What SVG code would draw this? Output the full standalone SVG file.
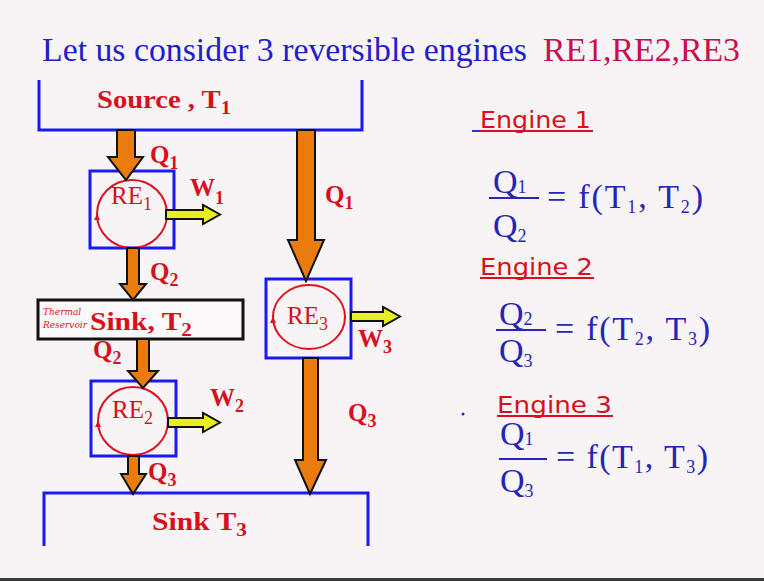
<svg xmlns="http://www.w3.org/2000/svg" width="764" height="581" viewBox="0 0 764 581">
<defs>
<style>
.title{font-family:"Liberation Serif",serif;font-size:33px;}
.lbl{font-family:"Liberation Serif",serif;font-weight:bold;font-size:25px;fill:#d8101c;}
.q{font-family:"Liberation Serif",serif;font-weight:bold;font-size:25px;fill:#d8101c;}
.re{font-family:"Liberation Serif",serif;font-size:25px;fill:#d8101c;}
.eng{font-family:"DejaVu Sans",sans-serif;font-size:23px;fill:#d8101c;}
.math{font-family:"Liberation Serif",serif;font-size:34px;fill:#2626b4;}
.sub{font-size:18px;}
.hot{fill:#e97c0c;stroke:#111;stroke-width:2;stroke-linejoin:miter;}
.work{fill:#e6f01e;stroke:#111;stroke-width:2;}
.box{fill:none;stroke:#1a1af0;stroke-width:3;}
.cyc{fill:none;stroke:#e0101c;stroke-width:2;}
.res{fill:none;stroke:#1a1af0;stroke-width:3;}
</style>
</defs>
<rect x="0" y="0" width="764" height="581" fill="#f8f4f6"/>
<rect x="0" y="578" width="764" height="3" fill="#3a3a3a"/>

<text class="title" x="42" y="61" fill="#2020c8" textLength="485" lengthAdjust="spacingAndGlyphs">Let us consider 3 reversible engines</text>
<text class="title" x="543" y="61" fill="#c8104c" textLength="197" lengthAdjust="spacingAndGlyphs">RE1,RE2,RE3</text>

<g id="source">
<polyline class="res" points="39,80 39,130 362,130 362,80"/>
<text class="lbl" x="97" y="108" font-size="27" textLength="134" lengthAdjust="spacingAndGlyphs">Source , T<tspan class="sub" dy="6">1</tspan></text>
</g>

<g id="sink2">
<rect x="38" y="300" width="205" height="39" fill="#fbf9fa" stroke="#111" stroke-width="3"/>
<text x="43" y="315" font-family="DejaVu Serif,serif" font-style="italic" font-size="9" fill="#d8101c">Thermal</text>
<text x="43" y="328" font-family="DejaVu Serif,serif" font-style="italic" font-size="9" fill="#d8101c">Reservoir</text>
<text class="lbl" x="90" y="330" font-size="26" textLength="102" lengthAdjust="spacingAndGlyphs">Sink, T<tspan class="sub" dy="6">2</tspan></text>
</g>

<g id="sink3">
<polyline class="res" points="44,546 44,493 368,493 368,546"/>
<text class="lbl" x="152" y="530" font-size="26" textLength="95" lengthAdjust="spacingAndGlyphs">Sink T<tspan class="sub" dy="6">3</tspan></text>
</g>

<g id="re1">
<rect class="box" x="90" y="171" width="84" height="77"/>
<ellipse class="cyc" cx="132" cy="214" rx="35" ry="34"/>
<polygon points="97,214 94,220 100,220" fill="#e0101c"/>
<text class="re" x="111" y="204">RE<tspan class="sub" dy="6">1</tspan></text>
</g>

<g id="re2">
<rect class="box" x="91" y="381" width="85" height="75"/>
<ellipse class="cyc" cx="133" cy="421" rx="35" ry="34"/>
<polygon points="98,421 95,427 101,427" fill="#e0101c"/>
<text class="re" x="112" y="418">RE<tspan class="sub" dy="6">2</tspan></text>
</g>

<g id="re3">
<rect class="box" x="266" y="279" width="85" height="79"/>
<ellipse class="cyc" cx="309" cy="317" rx="36" ry="32"/>
<polygon points="273,317 270,323 276,323" fill="#e0101c"/>
<text class="re" x="287" y="324">RE<tspan class="sub" dy="6">3</tspan></text>
</g>

<g id="connectors">
<polygon class="hot" points="117,130 135,130 135,157 143,157 126,180 108,157 117,157"/>
<polygon class="hot" points="297,130 315,130 315,240 324,240 306,281 288,240 297,240"/>
<polygon class="hot" points="127,248 139,248 139,284 146,284 133,300 120,284 127,284"/>
<polygon class="hot" points="137,339 149,339 149,371 158,371 143,388 128,371 137,371"/>
<polygon class="hot" points="128,456 139,456 139,474 146,474 133,494 121,474 128,474"/>
<polygon class="hot" points="303,358 318,358 318,460 326,460 310,494 295,460 303,460"/>
<polygon class="work" points="166,210 203,210 203,205 220,214.5 203,224 203,219 166,219"/>
<polygon class="work" points="168,418 203,418 203,413 220,422.5 203,432 203,427 168,427"/>
<polygon class="work" points="351,312 383,312 383,307 400,316.5 383,326 383,321 351,321"/>
<text class="q" x="150" y="163">Q<tspan class="sub" dy="6">1</tspan></text>
<text class="q" x="190" y="196">W<tspan class="sub" dy="8">1</tspan></text>
<text class="q" x="325" y="203">Q<tspan class="sub" dy="6">1</tspan></text>
<text class="q" x="150" y="280">Q<tspan class="sub" dy="6">2</tspan></text>
<text class="q" x="93" y="358">Q<tspan class="sub" dy="6">2</tspan></text>
<text class="q" x="210" y="406">W<tspan class="sub" dy="6">2</tspan></text>
<text class="q" x="358" y="347">W<tspan class="sub" dy="6">3</tspan></text>
<text class="q" x="348" y="421">Q<tspan class="sub" dy="6">3</tspan></text>
<text class="q" x="148" y="480">Q<tspan class="sub" dy="6">3</tspan></text>
</g>

<g id="engine1">
<text class="eng" x="480" y="128" textLength="111" lengthAdjust="spacingAndGlyphs">Engine 1</text>
<line x1="472" y1="131" x2="480" y2="131" stroke="#3030d0" stroke-width="2"/>
<line x1="480" y1="131" x2="593" y2="131" stroke="#d8101c" stroke-width="2"/>
<text class="math" x="493" y="193">Q<tspan class="sub" dy="0">1</tspan></text>
<line x1="489" y1="198" x2="539" y2="198" stroke="#2626b4" stroke-width="2"/>
<text class="math" x="493" y="237">Q<tspan class="sub" dy="5">2</tspan></text>
<text class="math" x="547" y="208" textLength="156" lengthAdjust="spacing">= f(T<tspan class="sub" dy="5">1</tspan><tspan dy="-5">, T</tspan><tspan class="sub" dy="5">2</tspan><tspan dy="-5">)</tspan></text>
</g>

<g id="engine2">
<text class="eng" x="480" y="275" textLength="113" lengthAdjust="spacingAndGlyphs">Engine 2</text>
<line x1="480" y1="278" x2="594" y2="278" stroke="#d8101c" stroke-width="2"/>
<text class="math" x="499" y="325">Q<tspan class="sub" dy="0">2</tspan></text>
<line x1="496" y1="330" x2="546" y2="330" stroke="#2626b4" stroke-width="2"/>
<text class="math" x="499" y="362">Q<tspan class="sub" dy="5">3</tspan></text>
<text class="math" x="555" y="340" textLength="155" lengthAdjust="spacing">= f(T<tspan class="sub" dy="5">2</tspan><tspan dy="-5">, T</tspan><tspan class="sub" dy="5">3</tspan><tspan dy="-5">)</tspan></text>
</g>

<g id="engine3">
<circle cx="463" cy="414" r="1.5" fill="#2626b4"/>
<text class="eng" x="497" y="413" textLength="115" lengthAdjust="spacingAndGlyphs">Engine 3</text>
<line x1="497" y1="416" x2="613" y2="416" stroke="#d8101c" stroke-width="2"/>
<text class="math" x="500" y="445">Q<tspan class="sub" dy="0">1</tspan></text>
<line x1="499" y1="459" x2="547" y2="459" stroke="#2626b4" stroke-width="2"/>
<text class="math" x="500" y="492">Q<tspan class="sub" dy="5">3</tspan></text>
<text class="math" x="556" y="468" textLength="152" lengthAdjust="spacing">= f(T<tspan class="sub" dy="5">1</tspan><tspan dy="-5">, T</tspan><tspan class="sub" dy="5">3</tspan><tspan dy="-5">)</tspan></text>
</g>
</svg>
